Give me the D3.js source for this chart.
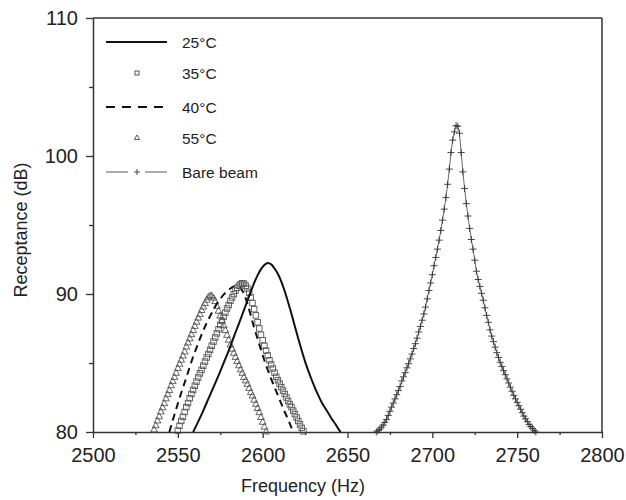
<!DOCTYPE html>
<html>
<head>
<meta charset="utf-8">
<script src="https://cdn.jsdelivr.net/npm/d3@7"></script>
<style>
  body { margin: 0; background: #fff; }
  text { font-family: "Liberation Sans", Arial, sans-serif; fill: #222; }
</style>
</head>
<body>
<div id="chart"></div>
<script>
// values
const xTicks = [2500, 2550, 2600, 2650, 2700, 2750, 2800];
const xMinor = [2525, 2575, 2625, 2675, 2725, 2775];
const yTicks = [80, 90, 100, 110];
const yMinor = [85, 95, 105];

const legendLabels = ["25\u00b0C", "35\u00b0C", "40\u00b0C", "55\u00b0C", "Bare beam"];

// 25°C solid line
const f25 = [2559, 2562, 2565, 2568, 2571, 2574, 2577, 2580, 2583, 2586, 2589, 2592, 2595, 2597, 2599, 2601, 2603, 2605, 2607, 2609, 2611, 2613, 2615, 2617, 2619, 2621, 2623, 2625, 2627, 2629, 2631, 2633, 2635, 2637, 2639, 2641, 2643, 2645, 2646];
const db25 = [80.0, 80.75, 81.55, 82.4, 83.25, 84.1, 85.0, 85.9, 86.9, 87.85, 88.85, 89.85, 90.8, 91.35, 91.8, 92.1, 92.25, 92.15, 91.85, 91.45, 90.9, 90.2, 89.4, 88.55, 87.65, 86.75, 85.9, 85.1, 84.4, 83.75, 83.15, 82.6, 82.1, 81.7, 81.3, 80.9, 80.55, 80.15, 80.0];

// 35°C squares
const f35 = [2550, 2551, 2552, 2553, 2554, 2555, 2556, 2557, 2558, 2559, 2560, 2561, 2562, 2563, 2564, 2565, 2566, 2567, 2568, 2569, 2570, 2571, 2572, 2573, 2574, 2575, 2576, 2577, 2578, 2579, 2580, 2581, 2582, 2583, 2584, 2585, 2586, 2587, 2588, 2589, 2590, 2591, 2592, 2593, 2594, 2595, 2596, 2597, 2598, 2599, 2600, 2601, 2602, 2603, 2604, 2605, 2606, 2607, 2608, 2609, 2610, 2611, 2612, 2613, 2614, 2615, 2616, 2617, 2618, 2619, 2620, 2621, 2622, 2623, 2624];
const db35 = [80.1, 80.45, 80.8, 81.1, 81.45, 81.8, 82.1, 82.45, 82.75, 83.05, 83.35, 83.65, 83.95, 84.25, 84.5, 84.8, 85.1, 85.4, 85.65, 85.95, 86.25, 86.55, 86.85, 87.15, 87.45, 87.75, 88.05, 88.35, 88.65, 88.95, 89.2, 89.5, 89.75, 90.0, 90.25, 90.45, 90.6, 90.72, 90.78, 90.75, 90.6, 90.4, 90.1, 89.75, 89.35, 88.9, 88.45, 87.95, 87.5, 87.05, 86.65, 86.25, 85.9, 85.55, 85.2, 84.9, 84.6, 84.3, 84.0, 83.75, 83.5, 83.25, 83.0, 82.75, 82.5, 82.25, 82.0, 81.8, 81.55, 81.3, 81.05, 80.8, 80.55, 80.3, 80.05];

// 40°C dashed line
const f40 = [2545, 2547, 2549, 2551, 2553, 2555, 2557, 2559, 2561, 2563, 2565, 2567, 2569, 2571, 2573, 2575, 2577, 2579, 2581, 2583, 2585, 2587, 2589, 2591, 2593, 2595, 2597, 2599, 2601, 2603, 2605, 2607, 2609, 2611, 2613, 2615, 2617, 2618];
const db40 = [80.0, 80.85, 81.65, 82.45, 83.2, 83.95, 84.7, 85.45, 86.1, 86.75, 87.35, 87.9, 88.4, 88.85, 89.3, 89.65, 89.95, 90.2, 90.4, 90.55, 90.6, 90.45, 90.0, 89.3, 88.45, 87.55, 86.75, 85.95, 85.2, 84.5, 83.85, 83.25, 82.65, 82.05, 81.45, 80.9, 80.3, 80.0];

// 55°C triangles
const f55 = [2536, 2537, 2538, 2539, 2540, 2541, 2542, 2543, 2544, 2545, 2546, 2547, 2548, 2549, 2550, 2551, 2552, 2553, 2554, 2555, 2556, 2557, 2558, 2559, 2560, 2561, 2562, 2563, 2564, 2565, 2566, 2567, 2568, 2569, 2570, 2571, 2572, 2573, 2574, 2575, 2576, 2577, 2578, 2579, 2580, 2581, 2582, 2583, 2584, 2585, 2586, 2587, 2588, 2589, 2590, 2591, 2592, 2593, 2594, 2595, 2596, 2597, 2598, 2599, 2600, 2601, 2602];
const db55 = [80.15, 80.45, 80.8, 81.1, 81.45, 81.75, 82.05, 82.4, 82.7, 83.0, 83.35, 83.65, 83.95, 84.25, 84.6, 84.9, 85.2, 85.5, 85.8, 86.15, 86.45, 86.75, 87.05, 87.35, 87.65, 87.95, 88.25, 88.5, 88.8, 89.05, 89.3, 89.55, 89.75, 89.85, 89.85, 89.7, 89.45, 89.1, 88.75, 88.4, 88.05, 87.7, 87.35, 87.0, 86.65, 86.3, 86.0, 85.7, 85.4, 85.1, 84.8, 84.5, 84.25, 83.95, 83.7, 83.45, 83.15, 82.85, 82.6, 82.3, 82.0, 81.7, 81.4, 81.05, 80.7, 80.35, 80.0];

// Bare beam, line with plus markers
const fBare = [2667, 2668, 2669, 2670, 2671, 2672, 2673, 2674, 2675, 2676, 2677, 2678, 2679, 2680, 2681, 2682, 2683, 2684, 2685, 2686, 2687, 2688, 2689, 2690, 2691, 2692, 2693, 2694, 2695, 2696, 2697, 2698, 2699, 2700, 2701, 2702, 2703, 2704, 2705, 2706, 2707, 2708, 2709, 2710, 2711, 2712, 2713, 2714, 2715, 2716, 2717, 2718, 2719, 2720, 2721, 2722, 2723, 2724, 2725, 2726, 2727, 2728, 2729, 2730, 2731, 2732, 2733, 2734, 2735, 2736, 2737, 2738, 2739, 2740, 2741, 2742, 2743, 2744, 2745, 2746, 2747, 2748, 2749, 2750, 2751, 2752, 2753, 2754, 2755, 2756, 2757, 2758, 2759, 2760, 2761];
const dbBare = [80.0, 80.1, 80.2, 80.35, 80.5, 80.7, 80.9, 81.2, 81.5, 81.8, 82.1, 82.4, 82.7, 83.0, 83.3, 83.7, 84.0, 84.3, 84.65, 84.95, 85.3, 85.65, 86.05, 86.4, 86.8, 87.25, 87.65, 88.1, 88.55, 89.05, 89.65, 90.25, 90.8, 91.4, 92.05, 92.65, 93.25, 93.9, 94.6, 95.35, 96.15, 97.0, 97.95, 99.05, 100.25, 101.15, 101.75, 102.2, 102.15, 101.65, 100.25, 98.85, 97.65, 96.55, 95.65, 94.75, 93.95, 93.25, 92.45, 91.65, 91.05, 90.55, 90.05, 89.55, 89.0, 88.45, 87.95, 87.4, 86.95, 86.55, 86.15, 85.75, 85.4, 85.05, 84.75, 84.45, 84.15, 83.85, 83.55, 83.25, 82.95, 82.65, 82.4, 82.15, 81.9, 81.65, 81.4, 81.15, 80.95, 80.75, 80.55, 80.4, 80.25, 80.1, 80.0];

const margin = {top: 18, right: 24, bottom: 68, left: 93},
      width = 626 - margin.left - margin.right,
      height = 500 - margin.top - margin.bottom;

const svg = d3.select("#chart").append("svg")
    .attr("width", 626)
    .attr("height", 500);

const g = svg.append("g")
    .attr("transform", `translate(${margin.left},${margin.top})`);

const x = d3.scaleLinear().domain([2500, 2800]).range([0, width]);
const y = d3.scaleLinear().domain([80, 110]).range([height, 0]);

const axisColor = "#333";

// minor ticks
g.append("g")
    .attr("transform", `translate(0,${height})`)
    .call(d3.axisBottom(x).tickValues(xMinor).tickSize(3).tickFormat(""))
    .call(a => a.select(".domain").remove());
g.append("g")
    .call(d3.axisLeft(y).tickValues(yMinor).tickSize(4).tickFormat(""))
    .call(a => a.select(".domain").remove());

// main axes
const xAxis = g.append("g")
    .attr("transform", `translate(0,${height})`)
    .call(d3.axisBottom(x).tickValues(xTicks).tickFormat(d3.format("d"))
        .tickSize(6).tickPadding(10).tickSizeOuter(0));
xAxis.selectAll("text").style("font-size", "20px");

const yAxis = g.append("g")
    .call(d3.axisLeft(y).tickValues(yTicks).tickSize(7).tickPadding(8).tickSizeOuter(0));
yAxis.selectAll("text").style("font-size", "20px");

g.selectAll(".tick line").attr("stroke", axisColor).attr("stroke-width", 1.3);
g.selectAll(".domain").attr("stroke", axisColor).attr("stroke-width", 1.5);

// box top/right
g.append("line").attr("x1", 0).attr("x2", width).attr("y1", 0).attr("y2", 0)
    .attr("stroke", axisColor).attr("stroke-width", 1.5);
g.append("line").attr("x1", width).attr("x2", width).attr("y1", 0).attr("y2", height)
    .attr("stroke", axisColor).attr("stroke-width", 1.5);

// axis titles
svg.append("text")
    .attr("x", 303).attr("y", 492)
    .attr("text-anchor", "middle")
    .style("font-size", "18px")
    .text("Frequency (Hz)");
svg.append("text")
    .attr("transform", "translate(27,230) rotate(-90)")
    .attr("text-anchor", "middle")
    .style("font-size", "18px")
    .text("Receptance (dB)");

const toPts = (fs, ds) => fs.map((f, i) => [f, ds[i]]);
const line = d3.line().x(d => x(d[0])).y(d => y(d[1])).curve(d3.curveMonotoneX);

const plot = g.append("g");

// Bare beam thin line
plot.append("path")
    .datum(toPts(fBare, dbBare))
    .attr("fill", "none").attr("stroke", "#444").attr("stroke-width", 0.8)
    .attr("d", d3.line().x(d => x(d[0])).y(d => y(d[1])));

// 55°C triangles
const tri = d3.symbol().type(d3.symbolTriangle).size(20);
plot.selectAll(".tri")
    .data(toPts(f55, db55))
    .enter().append("path")
    .attr("class", "tri")
    .attr("transform", d => `translate(${x(d[0])},${y(d[1])})`)
    .attr("d", tri)
    .attr("fill", "none").attr("stroke", "#555").attr("stroke-width", 0.9);

// 40°C dashed
plot.append("path")
    .datum(toPts(f40, db40))
    .attr("fill", "none").attr("stroke", "#111").attr("stroke-width", 2)
    .attr("stroke-dasharray", "7,5")
    .attr("d", line);

// 35°C squares
plot.selectAll(".sq")
    .data(toPts(f35, db35))
    .enter().append("rect")
    .attr("class", "sq")
    .attr("x", d => x(d[0]) - 2.75).attr("y", d => y(d[1]) - 2.75)
    .attr("width", 5.5).attr("height", 5.5)
    .attr("fill", "none").attr("stroke", "#555").attr("stroke-width", 0.9);

// 25°C solid
plot.append("path")
    .datum(toPts(f25, db25))
    .attr("fill", "none").attr("stroke", "#111").attr("stroke-width", 2)
    .attr("d", line);

// Bare beam plus markers
plot.selectAll(".plus")
    .data(toPts(fBare, dbBare))
    .enter().append("path")
    .attr("class", "plus")
    .attr("d", d => { const px = x(d[0]), py = y(d[1]);
        return `M${px - 3.5},${py}H${px + 3.5}M${px},${py - 3.5}V${py + 3.5}`; })
    .attr("stroke", "#333").attr("stroke-width", 0.9);

// legend
const legend = g.append("g");
const rowsY = [24, 55, 89, 120, 154];
const lx0 = 13, lx1 = 74, lmid = 44, ltext = 89;

legendLabels.forEach((lab, i) => {
    legend.append("text")
        .attr("x", ltext).attr("y", rowsY[i] + 6)
        .style("font-size", "15.5px")
        .text(lab);
});
legend.append("line").attr("x1", lx0).attr("x2", lx1).attr("y1", rowsY[0]).attr("y2", rowsY[0])
    .attr("stroke", "#111").attr("stroke-width", 2);
legend.append("rect").attr("x", lmid - 2).attr("y", rowsY[1] - 2).attr("width", 4).attr("height", 4)
    .attr("fill", "none").attr("stroke", "#444").attr("stroke-width", 0.9);
legend.append("line").attr("x1", lx0).attr("x2", lx1).attr("y1", rowsY[2]).attr("y2", rowsY[2])
    .attr("stroke", "#111").attr("stroke-width", 2).attr("stroke-dasharray", "9,7");
legend.append("path").attr("transform", `translate(${lmid},${rowsY[3]})`)
    .attr("d", d3.symbol().type(d3.symbolTriangle).size(12))
    .attr("fill", "none").attr("stroke", "#444").attr("stroke-width", 0.9);
legend.append("line").attr("x1", lx0).attr("x2", lx0 + 22).attr("y1", rowsY[4]).attr("y2", rowsY[4])
    .attr("stroke", "#444").attr("stroke-width", 0.9);
legend.append("line").attr("x1", lx1 - 22).attr("x2", lx1).attr("y1", rowsY[4]).attr("y2", rowsY[4])
    .attr("stroke", "#444").attr("stroke-width", 0.9);
legend.append("path")
    .attr("d", `M${lmid - 3},${rowsY[4]}H${lmid + 3}M${lmid},${rowsY[4] - 3}V${rowsY[4] + 3}`)
    .attr("stroke", "#333").attr("stroke-width", 0.9);
</script>
</body>
</html>
